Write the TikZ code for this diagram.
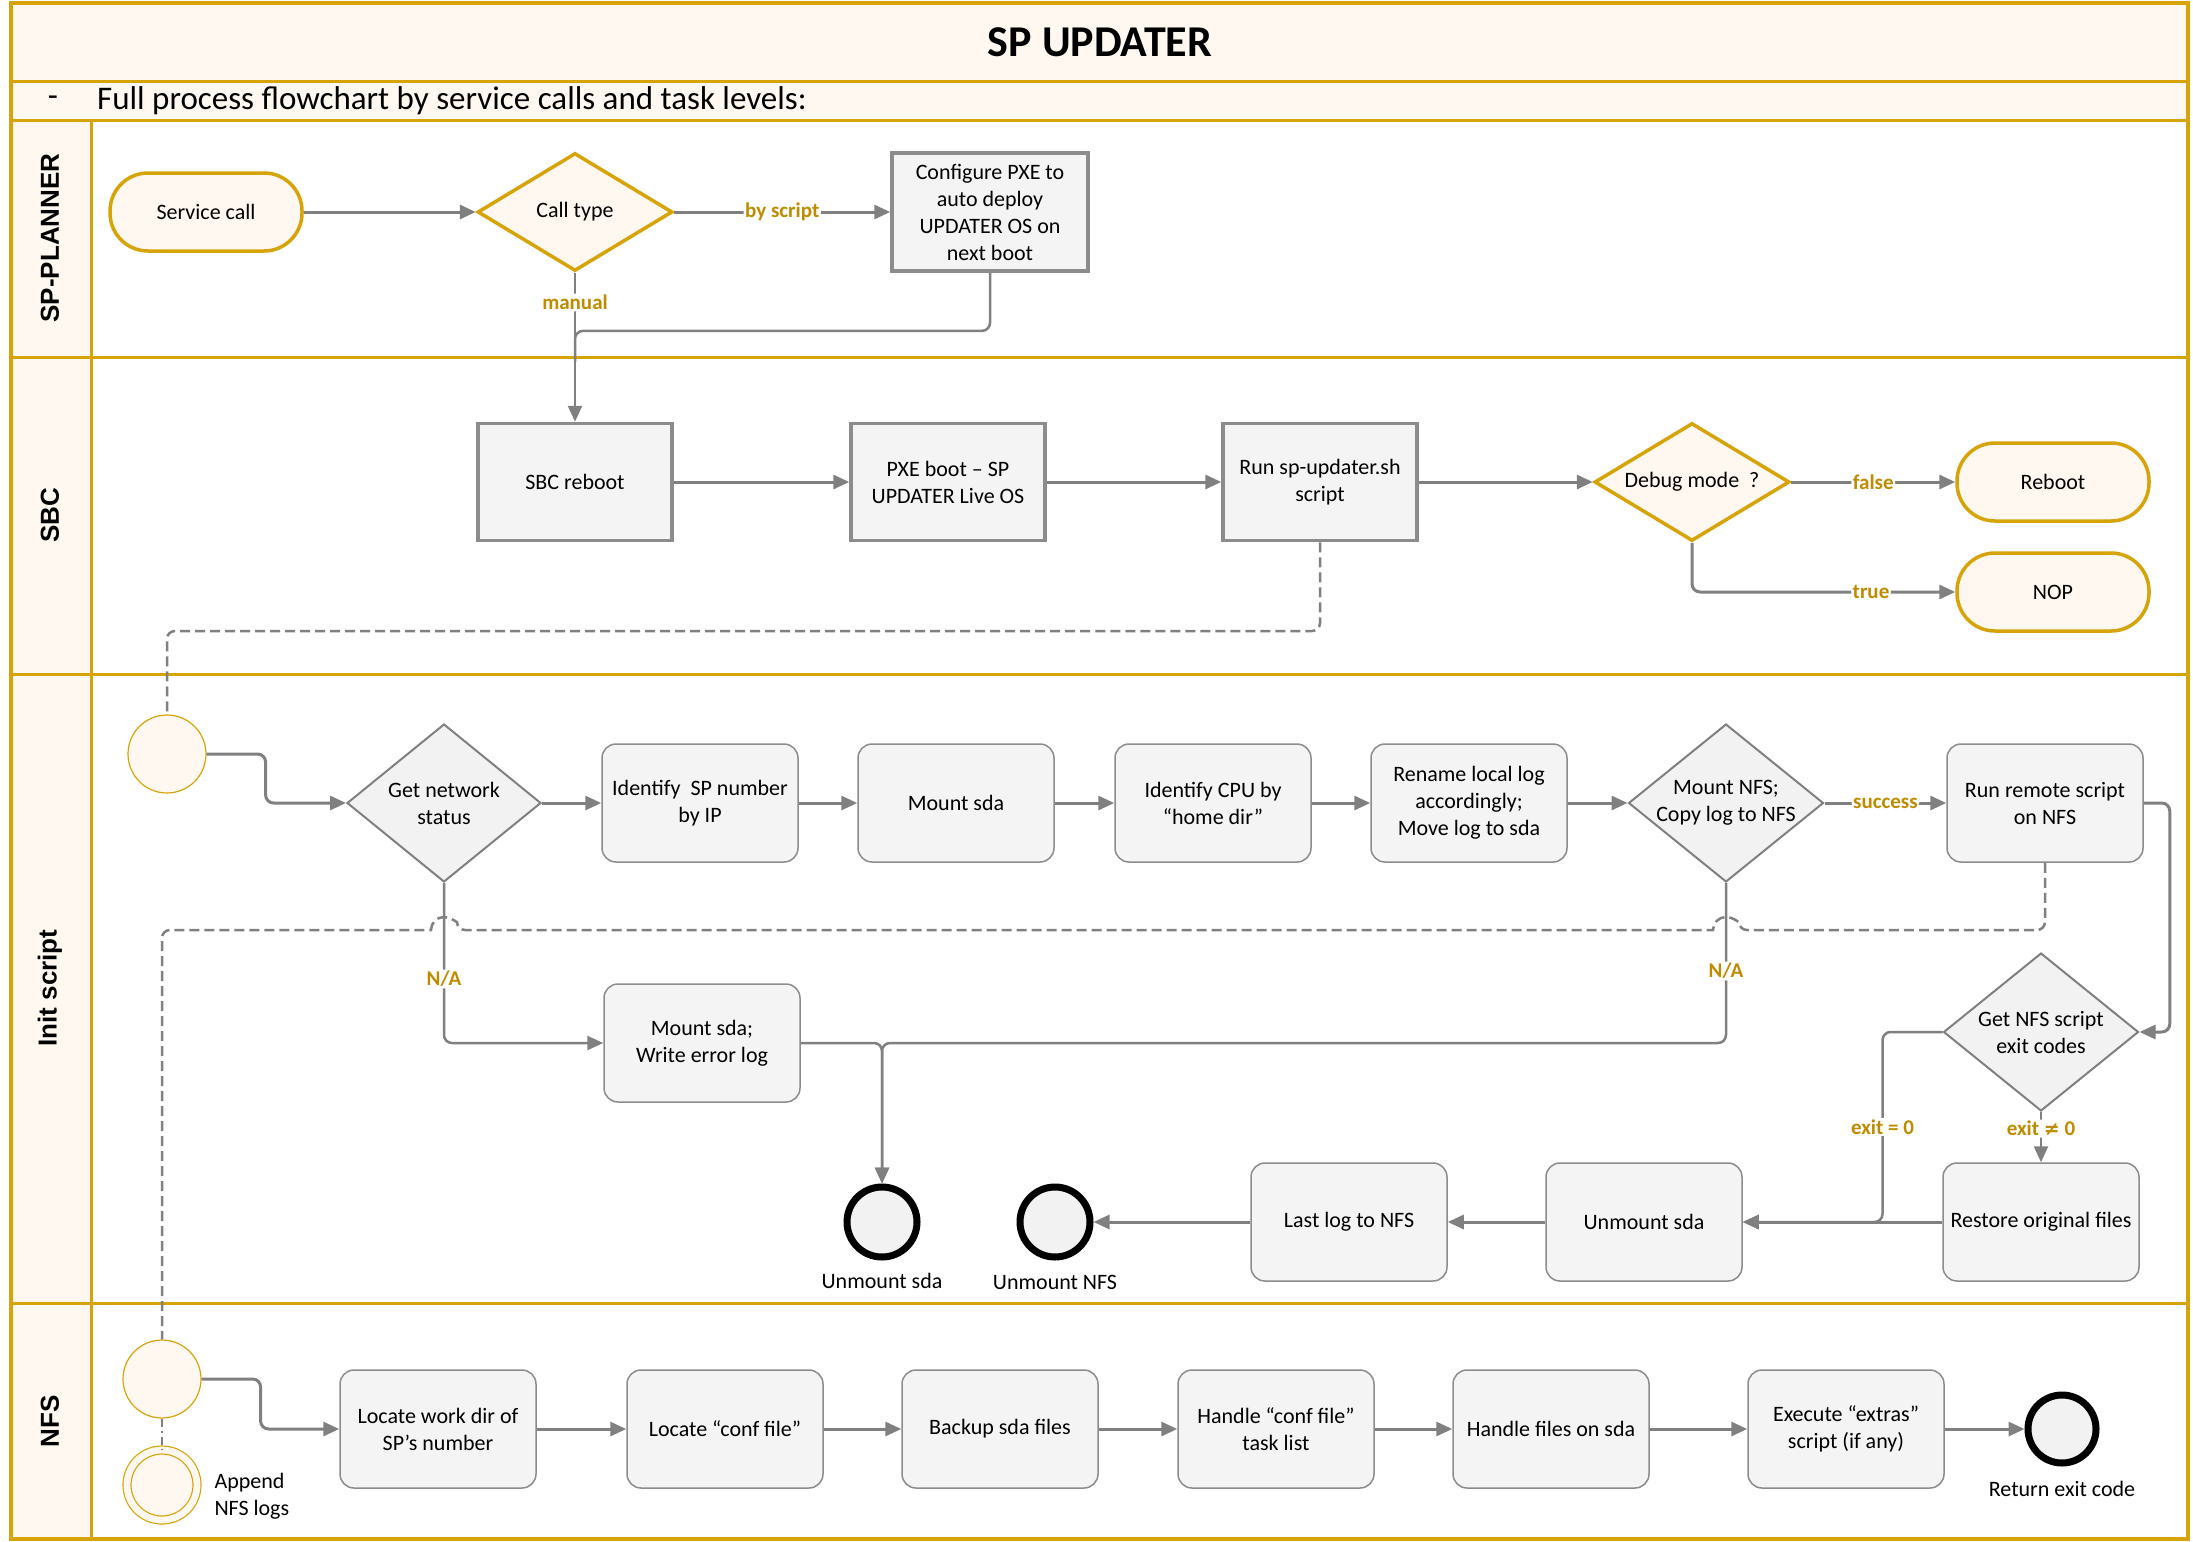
\documentclass[tikz,border=0pt]{standalone}
\usepackage{fontspec}
\setmainfont{Carlito}
\newfontfamily\lanefont{Liberation Sans}
\newfontfamily\symfont{DejaVu Sans}
\usetikzlibrary{arrows.meta,shapes.geometric,calc}
\definecolor{lanegold}{RGB}{214,163,8}
\definecolor{goldtxt}{RGB}{191,140,0}
\definecolor{cream}{RGB}{255,248,240}
\definecolor{boxfill}{RGB}{244,244,244}
\definecolor{boxline}{RGB}{140,140,140}
\definecolor{linegray}{RGB}{128,128,128}
\definecolor{endfill}{RGB}{242,242,242}
\tikzset{
 txt/.style={font=\fontsize{22}{27}\selectfont, align=center},
 sqbox/.style={txt, draw=boxline, line width=3.5pt, fill=boxfill, minimum width=194pt, minimum height=117pt, inner sep=0pt},
 rbox/.style={txt, draw=boxline, line width=1.5pt, fill=boxfill, rounded corners=14pt, minimum width=196pt, minimum height=118pt, inner sep=0pt},
 capsule/.style={txt, draw=lanegold, line width=3.5pt, fill=cream, rounded corners=38pt, minimum width=192pt, minimum height=78pt, inner sep=0pt},
 ydiam/.style={diamond, draw=lanegold, line width=3.5pt, fill=cream, minimum width=195pt, minimum height=118pt, inner sep=0pt},
 gdiam/.style={diamond, draw=linegray, line width=2pt, fill=endfill, minimum width=195pt, minimum height=158pt, inner sep=0pt},
 startc/.style={circle, draw=lanegold, line width=1.2pt, fill=cream, minimum size=78pt, inner sep=0pt},
 endc/.style={circle, draw=black, line width=7pt, fill=endfill, minimum size=70pt, inner sep=0pt},
 flow/.style={draw=linegray, line width=3pt, rounded corners=8pt},
 arr/.style={flow, -{Triangle[length=16pt,width=14pt]}},
 dsh/.style={draw=linegray, line width=2.5pt, dash pattern=on 10pt off 5pt, rounded corners=8pt},
 elab/.style={font=\fontsize{21}{24}\selectfont\bfseries, text=goldtxt, fill=white, inner sep=1.5pt},
 lane/.style={font=\lanefont\bfseries\fontsize{26}{30}\selectfont, rotate=90},
}
\begin{document}
\begin{tikzpicture}[x=1pt,y=-1pt]
\useasboundingbox (0,0) rectangle (2193,1542);
\fill[white] (0,0) rectangle (2193,1542);
\fill[cream] (11,3) rectangle (2188,120);
\fill[cream] (11,120) rectangle (91,1539);
\foreach \yy in {81,120,357,674,1303} \draw[lanegold, line width=3pt] (11,\yy) -- (2188,\yy);
\draw[lanegold, line width=3pt] (91,120) -- (91,1539);
\draw[lanegold, line width=3.5pt] (11,3) rectangle (2188,1539);

% header
\node[font=\fontsize{44}{50}\selectfont\bfseries] (title) at (1100,42) {SP UPDATER};
\node[font=\fontsize{33}{38}\selectfont] (subdash) at (53,101) {-};
\node[font=\fontsize{33}{38}\selectfont, anchor=west, inner sep=0pt] (subtitle) at (97,101) {Full process flowchart by service calls and task levels:};

% lane labels
\node[lane] (lanesp) at (50,238) {SP-PLANNER};
\node[lane] (lanesbc) at (50,515) {SBC};
\node[lane] (laneinit) at (50,988) {Init script};
\node[lane] (lanenfs) at (50,1421) {NFS};

% SP-PLANNER
\node[capsule] (svc) at (206,212) {Service call};
\node[ydiam, label={[txt]center:Call type}] (calltype) at (575,212) {};
\node[sqbox, minimum width=196pt, minimum height=118pt] (cfg) at (990,212) {Configure PXE to\\auto deploy\\UPDATER OS on\\next boot};

% SBC
\node[sqbox] (sbcreboot) at (575,482) {SBC reboot};
\node[sqbox] (pxe) at (948,482) {PXE boot – SP\\UPDATER Live OS};
\node[sqbox] (run) at (1320,482) {Run sp-updater.sh\\script};
\node[ydiam, label={[txt]center:Debug mode\ \ ?}] (debug) at (1692,482) {};
\node[capsule] (reboot) at (2053,482) {Reboot};
\node[capsule] (nop) at (2053,592) {NOP};

% Init script
\node[startc] (initstart) at (167,754) {};
\node[gdiam, minimum width=194pt, label={[txt]center:{Get network\\status}}] (getnet) at (444,803) {};
\node[rbox] (idsp) at (700,803) {Identify~ SP number\\by IP};
\node[rbox] (mountsda) at (956,803) {Mount sda};
\node[rbox] (idcpu) at (1213,803) {Identify CPU by\\“home dir”};
\node[rbox] (rename) at (1469,803) {Rename local log\\accordingly;\\Move log to sda};
\node[gdiam, label={[txt]center:{Mount NFS;\\Copy log to NFS}}] (mountnfs) at (1726,803) {};
\node[rbox] (runremote) at (2045,803) {Run remote script\\on NFS};
\node[gdiam, label={[txt]center:{Get NFS script\\exit codes}}] (getnfs) at (2041,1032) {};
\node[rbox] (wrerr) at (702,1043) {Mount sda;\\Write error log};
\node[endc] (umsdaend) at (882,1222) {};
\node[txt] (umsdalab) at (882,1281) {Unmount sda};
\node[endc] (umnfsend) at (1055,1222) {};
\node[txt] (umnfslab) at (1055,1282) {Unmount NFS};
\node[rbox] (lastlog) at (1349,1222) {Last log to NFS};
\node[rbox] (umsda) at (1644,1222) {Unmount sda};
\node[rbox] (restore) at (2041,1222) {Restore original files};

% NFS
\node[startc] (nfsstart) at (162,1379) {};
\node[startc, double=cream, double distance=6.8pt, minimum size=70pt] (append) at (162,1485) {};
\node[txt, anchor=west, align=left] (applab) at (211,1496) {Append\\NFS logs};
\node[rbox] (locwd) at (438,1429) {Locate work dir of\\SP’s number};
\node[rbox] (locconf) at (725,1429) {Locate “conf file”};
\node[rbox] (backup) at (1000,1429) {Backup sda files};
\node[rbox] (hconf) at (1276,1429) {Handle “conf file”\\task list};
\node[rbox] (hfiles) at (1551,1429) {Handle files on sda};
\node[rbox] (execx) at (1846,1429) {Execute “extras”\\script (if any)};
\node[endc, minimum size=68pt] (retc) at (2062,1429) {};
\node[txt] (retlab) at (2062,1489) {Return exit code};

% connectors SP-PLANNER
\draw[arr] (svc.east) -- (calltype.west);
\draw[arr] (calltype.east) -- node[elab]{by script} (cfg.west);
\draw[flow, line width=2.5pt] (cfg.south) |- ($(calltype.south)!0.39!(sbcreboot.north)$) -- ($(calltype.south)!0.6!(sbcreboot.north)$);
\draw[arr, line width=2.5pt] (calltype.south) -- node[elab, pos=0.2]{manual} (sbcreboot.north);

% SBC
\draw[arr] (sbcreboot.east) -- (pxe.west);
\draw[arr] (pxe.east) -- (run.west);
\draw[arr] (run.east) -- (debug.west);
\draw[arr] (debug.east) -- node[elab]{false} (reboot.west);
\draw[arr] (debug.south) |- node[elab, pos=0.84]{true} (nop.west);
\draw[dsh] (run.south) |- (initstart.north |- 0,631) -- (initstart.north);

% Init
\draw[arr] (initstart.east) -- ++(59,0) |- (getnet.west);
\draw[arr] (getnet.east) -- (idsp.west);
\draw[arr] (idsp.east) -- (mountsda.west);
\draw[arr] (mountsda.east) -- (idcpu.west);
\draw[arr] (idcpu.east) -- (rename.west);
\draw[arr] (rename.east) -- (mountnfs.west);
\draw[arr] (mountnfs.east) -- node[elab]{success} (runremote.west);
\draw[arr] (runremote.east) -- ++(26,0) |- (getnfs.east);
\draw[arr, line width=2.5pt] (getnet.south) |- node[elab, pos=0.3]{N/A} (wrerr.west);
\draw[arr, line width=2.5pt] (wrerr.east) -| (umsdaend.north);
\draw[arr, line width=2.5pt] (mountnfs.south) -- node[elab, pos=0.55]{N/A} (mountnfs.south |- wrerr.east) -- (umsdaend.north |- wrerr.east) -- (umsdaend.north);
\draw[dsh] (runremote.south) -- (runremote.south |- 0,930) -- ($(mountnfs.south |- 0,930)+(13,0)$) [sharp corners] arc[start angle=0, end angle=180, radius=13pt] [rounded corners=8pt] -- ($(getnet.south |- 0,930)+(13,0)$) [sharp corners] arc[start angle=0, end angle=180, radius=13pt] [rounded corners=8pt] -- (nfsstart.north |- 0,930) -- (nfsstart.north);
\draw[arr, line width=2.5pt] (getnfs.south) -- node[elab, pos=0.33]{exit {\symfont\fontsize{19}{22}\selectfont ≠} 0} (restore.north);
\draw[arr, line width=2.5pt] (getnfs.west) -- ++(-60,0) |- node[elab, pos=0.25]{exit = 0} (umsda.east);
\draw[arr] (restore.west) -- (umsda.east);
\draw[arr] (umsda.west) -- (lastlog.east);
\draw[arr] (lastlog.west) -- (umnfsend.east);

% NFS
\draw[arr] (nfsstart.east) -- ++(59,0) |- (locwd.west);
\draw[arr] (locwd.east) -- (locconf.west);
\draw[arr] (locconf.east) -- (backup.west);
\draw[arr] (backup.east) -- (hconf.west);
\draw[arr] (hconf.east) -- (hfiles.west);
\draw[arr] (hfiles.east) -- (execx.west);
\draw[arr] (execx.east) -- (retc.west);
\draw[draw=linegray, line width=1.3pt, dash pattern=on 8pt off 4pt on 2pt off 4pt] (nfsstart.south) -- (append.north);
\end{tikzpicture}
\end{document}
